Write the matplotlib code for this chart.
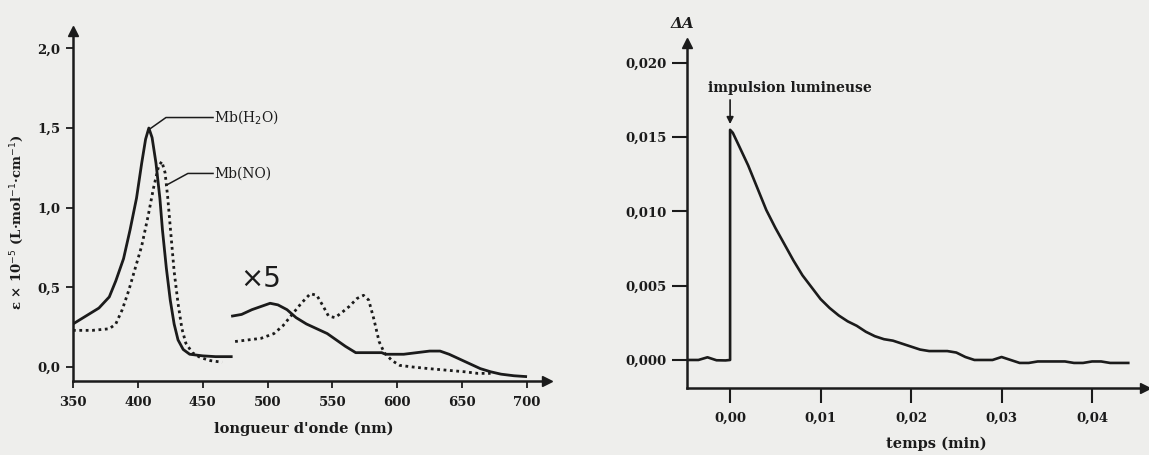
import matplotlib
matplotlib.use("Agg")
import matplotlib.pyplot as plt

# --- spectra (left) : epsilon x 1e-5, visible part already x5 on the original
h2o_uv_nm = [350, 360, 370, 378, 383, 389, 394, 399, 403, 406, 408.5, 411, 414, 417, 419,
             422, 425, 428, 431, 435, 440, 450, 460, 472]
h2o_uv_eps = [0.27, 0.32, 0.37, 0.44, 0.54, 0.68, 0.86, 1.06, 1.28, 1.43, 1.50, 1.44, 1.28,
              1.06, 0.86, 0.62, 0.42, 0.27, 0.17, 0.11, 0.08, 0.07, 0.065, 0.065]
no_uv_nm = [350, 365, 378, 383, 388, 393, 398, 403, 408, 412, 416, 418.5, 421, 423, 425,
            428, 431, 434, 437, 442, 448, 456, 465]
no_uv_eps = [0.23, 0.23, 0.24, 0.27, 0.36, 0.48, 0.62, 0.76, 0.95, 1.12, 1.26, 1.29, 1.22,
             1.07, 0.88, 0.60, 0.40, 0.24, 0.15, 0.09, 0.06, 0.04, 0.03]
h2o_vis_nm = [473, 480, 488, 495, 502, 508, 515, 522, 530, 538, 546, 553, 560, 568, 575,
              582, 588, 591, 596, 605, 615, 625, 633, 640, 648, 656, 664, 672, 680, 690, 699]
h2o_vis_eps = [0.32, 0.33, 0.36, 0.38, 0.40, 0.39, 0.36, 0.31, 0.27, 0.24, 0.21, 0.17, 0.13,
               0.09, 0.09, 0.09, 0.09, 0.08, 0.08, 0.08, 0.09, 0.10, 0.10, 0.08, 0.05, 0.02,
               -0.01, -0.03, -0.045, -0.055, -0.06]
no_vis_nm = [475, 485, 495, 505, 512, 519, 526, 533, 538, 543, 547, 552, 557, 563, 569, 574,
             578, 582, 586, 590, 596, 602, 612, 624, 638, 652, 662, 672]
no_vis_eps = [0.16, 0.17, 0.18, 0.21, 0.26, 0.33, 0.40, 0.46, 0.45, 0.38, 0.32, 0.31, 0.34,
              0.38, 0.43, 0.45, 0.42, 0.30, 0.16, 0.09, 0.04, 0.01, 0.00, -0.01, -0.02, -0.03,
              -0.04, -0.04]
nm_ticks = [350, 400, 450, 500, 550, 600, 650, 700]
eps_ticks = [0.0, 0.5, 1.0, 1.5, 2.0]
eps_labels = ["0,0", "0,5", "1,0", "1,5", "2,0"]

# --- kinetics (right)
kin_t = [-0.0045, -0.0035, -0.0025, -0.0015, -0.0005, 0.0, 0.0, 0.0003, 0.001, 0.002, 0.003,
         0.004, 0.005, 0.006, 0.007, 0.008, 0.009, 0.010, 0.011, 0.012, 0.013, 0.014, 0.015,
         0.016, 0.017, 0.018, 0.019, 0.020, 0.021, 0.022, 0.023, 0.024, 0.025, 0.026, 0.027,
         0.028, 0.029, 0.030, 0.031, 0.032, 0.033, 0.034, 0.035, 0.036, 0.037, 0.038, 0.039,
         0.040, 0.041, 0.042, 0.043, 0.044]
kin_dA = [0.0, 0.0, 0.00018, -0.00002, -0.00003, 0.0, 0.0155, 0.0153, 0.0144, 0.0131, 0.0116,
          0.0101, 0.0089, 0.0078, 0.0067, 0.0057, 0.0049, 0.0041, 0.0035, 0.0030, 0.0026,
          0.0023, 0.0019, 0.0016, 0.0014, 0.0013, 0.0011, 0.0009, 0.0007, 0.0006, 0.0006,
          0.0006, 0.0005, 0.0002, 0.0, 0.0, 0.0, 0.0002, 0.0, -0.0002, -0.0002, -0.0001,
          -0.0001, -0.0001, -0.0001, -0.0002, -0.0002, -0.0001, -0.0001, -0.0002, -0.0002,
          -0.0002]
t_ticks = [0.0, 0.01, 0.02, 0.03, 0.04]
t_labels = ["0,00", "0,01", "0,02", "0,03", "0,04"]
dA_ticks = [0.0, 0.005, 0.010, 0.015, 0.020]
dA_labels = ["0,000", "0,005", "0,010", "0,015", "0,020"]

ink = "#1b1b1b"
paper = "#eeeeec"
serif = "DejaVu Serif"
fs = 9.5

fig = plt.figure(figsize=(11.49, 4.55), dpi=100, facecolor=paper)


def arrow_axes(ax):
    for s in ("top", "right"):
        ax.spines[s].set_visible(False)
    for s in ("left", "bottom"):
        ax.spines[s].set_linewidth(1.8)
        ax.spines[s].set_color(ink)
    ax.set_facecolor("none")
    ax.plot(1, 0, ">", color=ink, ms=7, transform=ax.transAxes, clip_on=False)
    ax.plot(0, 1, "^", color=ink, ms=7, transform=ax.transAxes, clip_on=False)


# left: absorption spectra
ax1 = fig.add_axes([0.0635, 0.1626, 0.4125, 0.7692])
arrow_axes(ax1)
ax1.plot(h2o_uv_nm, h2o_uv_eps, color=ink, lw=2)
ax1.plot(no_uv_nm, no_uv_eps, color=ink, lw=2, ls=(0, (1, 1.3)))
ax1.plot(h2o_vis_nm, h2o_vis_eps, color=ink, lw=2)
ax1.plot(no_vis_nm, no_vis_eps, color=ink, lw=2, ls=(0, (1, 1.3)))
ax1.set_xlim(350, 715.4)
ax1.set_ylim(-0.088, 2.109)
ax1.set_xticks(nm_ticks)
ax1.set_xticklabels([str(v) for v in nm_ticks])
ax1.set_yticks(eps_ticks)
ax1.set_yticklabels(eps_labels)
ax1.tick_params(direction="out", length=5, width=1.3, color=ink, pad=4,
                labelsize=fs, labelcolor=ink)
ax1.tick_params(axis="x", pad=6)
for lab in ax1.get_xticklabels() + ax1.get_yticklabels():
    lab.set_fontfamily(serif)
    lab.set_fontweight("bold")
ax1.set_xlabel("longueur d'onde (nm)", fontfamily=serif, fontweight="bold",
               fontsize=10.5, color=ink)
ax1.xaxis.set_label_coords(0.487, -0.115)
ax1.set_ylabel("ε × 10$^{-5}$ (L·mol$^{-1}$·cm$^{-1}$)", fontfamily=serif,
               fontweight="bold", fontsize=9.5, color=ink)
ax1.yaxis.set_label_coords(-0.10, 0.454)

# curve labels with leader lines
ax1.plot([408.5, 421.7, 458], [1.49, 1.566, 1.566], color=ink, lw=1.1)
ax1.text(459, 1.566, "Mb(H$_2$O)", fontfamily=serif, fontsize=10, color=ink, va="center")
ax1.plot([421.7, 438.6, 458], [1.14, 1.215, 1.215], color=ink, lw=1.1)
ax1.text(459, 1.215, "Mb(NO)", fontfamily=serif, fontsize=10, color=ink, va="center")
ax1.text(495, 0.555, "×5", fontfamily="DejaVu Sans", fontsize=20, color=ink,
         ha="center", va="center")

# right: transient absorbance
ax2 = fig.add_axes([0.598, 0.1473, 0.3986, 0.7582])
arrow_axes(ax2)
ax2.plot(kin_t, kin_dA, color=ink, lw=1.9)
ax2.set_xlim(-0.00475, 0.04586)
ax2.set_ylim(-0.001886, 0.021347)
ax2.set_xticks(t_ticks)
ax2.set_xticklabels(t_labels)
ax2.set_yticks(dA_ticks)
ax2.set_yticklabels(dA_labels)
ax2.tick_params(direction="out", length=11, width=1.5, color=ink, pad=4,
                labelsize=fs, labelcolor=ink)
ax2.tick_params(axis="x", pad=6)
for lab in ax2.get_xticklabels() + ax2.get_yticklabels():
    lab.set_fontfamily(serif)
    lab.set_fontweight("bold")
ax2.set_xlabel("temps (min)", fontfamily=serif, fontweight="bold", fontsize=10.5, color=ink)
ax2.xaxis.set_label_coords(0.544, -0.14)
ax2.text(-0.0053, 0.0226, "ΔA", fontfamily=serif, fontweight="bold", fontstyle="italic",
         fontsize=11, color=ink, ha="center", va="center", clip_on=False)
ax2.annotate("", xy=(0.0, 0.0157), xytext=(0.0, 0.0177),
             arrowprops=dict(arrowstyle="-|>", color=ink, lw=1.2, mutation_scale=10))
ax2.text(0.0066, 0.01832, "impulsion lumineuse", fontfamily=serif, fontweight="bold",
         fontsize=10, color=ink, ha="center", va="center")

fig.savefig("out.png", dpi=100, facecolor=paper)
